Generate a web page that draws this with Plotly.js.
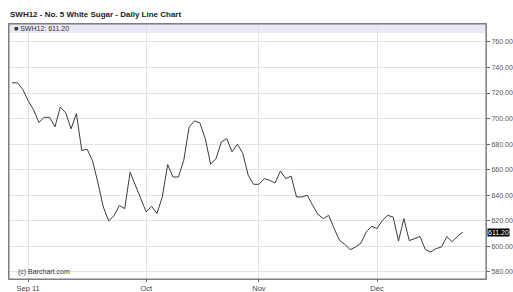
<!DOCTYPE html>
<html>
<head>
<meta charset="utf-8">
<script src="https://cdn.plot.ly/plotly-3.0.1.min.js"></script>
<style>html,body{margin:0;padding:0;background:#fff;}#chart{width:513px;height:292px;}</style>
</head>
<body>
<div id="chart"></div>
<script>
// Trading-day index (0 = first session shown) and closing prices
const prices = [
  728, 728, 723, 714, 707, 697, 701, 701, 693.5, 709,
  704.5, 692, 704, 675, 676, 667, 650, 631, 620, 624,
  632, 629.6, 658, 648, 637, 627, 631.4, 625.7, 638.7, 664,
  654.3, 654.3, 667.4, 693.5, 698.2, 696.6, 684.4, 664.3, 668.7, 681.7,
  684.4, 674, 680, 672.7, 655.7, 648.6, 648.6, 653, 651.7, 649.6,
  659, 653, 655, 638.7, 638.7, 640, 632.2, 625, 621.8, 624.3,
  614, 604.8, 601.6, 597.5, 599.5, 602.6, 611.3, 615.7, 614, 620.4,
  624.3, 623, 604.2, 621.8, 604.5, 606.4, 607.7, 597.5, 595.6, 598.3,
  599.5, 607.7, 603.7, 608, 611.2
];
const days = prices.map((_, i) => i);
const monthTickDays = [3, 25, 46, 68];
const monthTickText = ["Sep 11", "Oct", "Nov", "Dec"];
const priceTicks = [580, 600, 620, 640, 660, 680, 700, 720, 740, 760];
const lastPrice = prices[prices.length - 1];
const symbol = "SWH12";
const chartTitle = "SWH12 - No. 5 White Sugar - Daily Line Chart";

const trace = {
  x: days, y: prices, type: "scatter", mode: "lines",
  line: {color: "#3c3c3c", width: 1},
  hoverinfo: "skip"
};

const layout = {
  width: 513, height: 292,
  margin: {l: 9, r: 27, t: 24, b: 13},
  paper_bgcolor: "#ffffff", plot_bgcolor: "#ffffff",
  font: {family: "Liberation Sans, Arial, sans-serif", size: 8, color: "#555"},
  showlegend: false,
  xaxis: {
    range: [-0.56, 88.3], tickmode: "array",
    tickvals: monthTickDays, ticktext: monthTickText,
    showgrid: true, gridcolor: "#e2e2e2", gridwidth: 1,
    zeroline: false, showline: true, linecolor: "#888", linewidth: 1, mirror: true,
    ticks: "outside", ticklen: 2, tickcolor: "#666", ticklabelstandoff: 0,
    tickfont: {size: 7.5, color: "#444"}, fixedrange: true
  },
  yaxis: {
    range: [574.5, 774], side: "right", tickmode: "array",
    tickvals: priceTicks, ticktext: priceTicks.map(v => v.toFixed(2)),
    showgrid: true, gridcolor: "#e2e2e2", gridwidth: 1,
    zeroline: false, showline: true, linecolor: "#888", linewidth: 1, mirror: true,
    ticks: "outside", ticklen: 3, tickcolor: "#666", ticklabelstandoff: 0,
    tickfont: {size: 7, color: "#555"}, fixedrange: true
  },
  shapes: [
    {type: "rect", xref: "paper", yref: "paper", x0: 0, x1: 1, y0: 1 - 9/255, y1: 1,
     fillcolor: "#e8e8f6", line: {width: 0}, layer: "below"},
    {type: "rect", xref: "paper", yref: "paper", x0: 0, x1: 1, y0: 0, y1: 1,
     fillcolor: "rgba(0,0,0,0)", line: {color: "#777", width: 1}}
  ],
  annotations: [
    {text: "<b>" + chartTitle + "</b>", xref: "paper", yref: "paper", x: -0.003, y: 1, yshift: 10,
     xanchor: "left", yanchor: "middle", showarrow: false,
     font: {size: 8, color: "#222", family: "Liberation Sans, Arial, sans-serif"}},
    {text: "■ " + symbol + ": " + lastPrice.toFixed(2), xref: "paper", yref: "paper", x: 0.006, y: 1, yshift: -4.5,
     xanchor: "left", yanchor: "middle", showarrow: false,
     font: {size: 7, color: "#333"}},
    {text: "(c) Barchart.com", xref: "paper", yref: "paper", x: 0.015, y: 0, yshift: 7,
     xanchor: "left", yanchor: "middle", showarrow: false,
     font: {size: 7, color: "#333"}},
    {text: lastPrice.toFixed(2), xref: "paper", yref: "y", x: 1, y: lastPrice, xshift: 1,
     xanchor: "left", yanchor: "middle", showarrow: false, bgcolor: "#000",
     borderpad: 0, font: {size: 7, color: "#fff"}}
  ]
};

Plotly.newPlot("chart", [trace], layout, {displayModeBar: false, staticPlot: true});
</script>
</body>
</html>
